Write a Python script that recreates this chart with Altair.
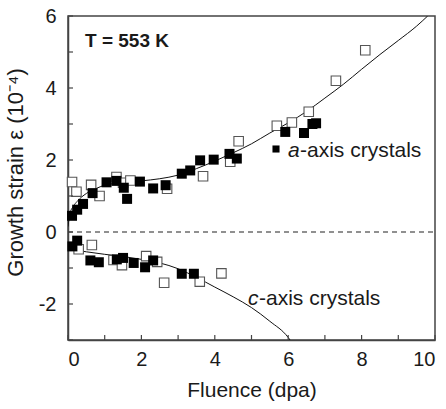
import altair as alt
import pandas as pd

# ---------------- data ----------------
a_filled_x = [0.11, 0.25, 0.41, 0.67, 1.05, 1.32, 1.52, 1.61, 1.96, 2.32, 2.66, 3.10, 3.33, 3.60, 3.97, 4.40, 4.60, 5.92, 6.43, 6.66, 6.76]
a_filled_y = [0.45, 0.62, 0.78, 1.08, 1.38, 1.42, 1.23, 0.92, 1.40, 1.21, 1.30, 1.62, 1.71, 1.99, 2.01, 2.17, 2.04, 2.78, 2.75, 3.00, 3.02]

a_open_x = [0.11, 0.23, 0.63, 0.86, 1.32, 1.50, 1.70, 2.70, 3.68, 4.42, 4.65, 5.69, 6.10, 6.56, 7.30, 8.10]
a_open_y = [1.39, 1.12, 1.31, 1.00, 1.53, 1.37, 1.43, 1.20, 1.55, 1.95, 2.52, 2.95, 3.04, 3.34, 4.20, 5.05]

c_filled_x = [0.12, 0.25, 0.61, 0.84, 1.33, 1.50, 1.79, 2.10, 2.32, 3.10, 3.43]
c_filled_y = [-0.40, -0.24, -0.79, -0.84, -0.76, -0.72, -0.86, -0.98, -0.79, -1.16, -1.16]

c_open_x = [0.29, 0.65, 1.24, 1.47, 2.13, 2.43, 2.62, 3.59, 4.18]
c_open_y = [-0.48, -0.36, -0.78, -0.92, -0.67, -0.83, -1.41, -1.38, -1.15]

a_fit_x = [0, 0.05, 0.15, 0.25, 0.5, 0.75, 1, 1.5, 2, 2.5, 3, 3.5, 4, 4.5, 5, 5.5, 6, 6.5, 7, 7.5, 8, 8.5, 9, 9.5, 9.8]
a_fit_y = [0.15, 0.5, 0.72, 0.85, 1.07, 1.2, 1.3, 1.37, 1.42, 1.48, 1.58, 1.76, 1.97, 2.2, 2.45, 2.75, 3.03, 3.35, 3.72, 4.1, 4.52, 4.93, 5.32, 5.72, 6.0]

c_fit_x = [0, 0.5, 1, 1.5, 2, 2.5, 3, 3.5, 4, 4.5, 5, 5.5, 6, 6.05]
c_fit_y = [-0.47, -0.55, -0.62, -0.68, -0.76, -0.86, -1.02, -1.26, -1.53, -1.8, -2.1, -2.48, -2.93, -3.0]

x_ticks = [0, 1, 2, 3, 4, 5, 6, 7, 8, 9, 10]
x_labels = [0, 2, 4, 6, 8, 10]
y_ticks = [-3, -2, -1, 0, 1, 2, 3, 4, 5, 6]
y_labels = [-2, 0, 2, 4, 6]
zero_line = [0, 10]

W, H = 367, 324
FONT = "Liberation Sans"
TXT = "#1a1a1a"
AX = "#444444"

xs = alt.Scale(domain=[0, 10], nice=False, zero=False)
ys = alt.Scale(domain=[-3, 6], nice=False, zero=False)

LBL = "datum.value < 0 ? '-' + abs(datum.value) : '' + datum.value"

xaxis = alt.Axis(values=x_labels, ticks=False, grid=False, labelFontSize=20, labelPadding=9, labelExpr=LBL,
                 title="Fluence (dpa)", titleFontSize=21, titlePadding=10, titleFontWeight="normal",
                 labelColor=TXT, titleColor=TXT, domainColor=AX, domainWidth=1.5, labelFont=FONT, titleFont=FONT)
yaxis = alt.Axis(values=y_labels, ticks=False, grid=False, labelFontSize=20, labelPadding=12, labelExpr=LBL,
                 title="Growth strain ε (10⁻⁴)", titleFontSize=22, titlePadding=11, titleFontWeight="normal",
                 titleY=156,
                 labelColor=TXT, titleColor=TXT, domainColor=AX, domainWidth=1.5, labelFont=FONT, titleFont=FONT)

def pts(x, y):
    return pd.DataFrame({"x": x, "y": y})

zero_df = pd.DataFrame({"x": zero_line, "y": [0, 0]})
zero = alt.Chart(zero_df).mark_line(color="#222", strokeWidth=1.1, strokeDash=[5, 4]).encode(
    x=alt.X("x:Q", scale=xs, axis=xaxis), y=alt.Y("y:Q", scale=ys, axis=yaxis))

fit_a = alt.Chart(pts(a_fit_x, a_fit_y)).mark_line(color="#111", strokeWidth=1, clip=True, interpolate="monotone").encode(
    x=alt.X("x:Q", scale=xs), y=alt.Y("y:Q", scale=ys))
fit_c = alt.Chart(pts(c_fit_x, c_fit_y)).mark_line(color="#111", strokeWidth=1, clip=True, interpolate="monotone").encode(
    x=alt.X("x:Q", scale=xs), y=alt.Y("y:Q", scale=ys))

def open_sq(x, y):
    return alt.Chart(pts(x, y)).mark_square(size=90, filled=True, fill="white", stroke="#555", strokeWidth=1.1, opacity=1).encode(
        x=alt.X("x:Q", scale=xs), y=alt.Y("y:Q", scale=ys))

def fill_sq(x, y):
    return alt.Chart(pts(x, y)).mark_square(size=100, filled=True, color="#000", opacity=1).encode(
        x=alt.X("x:Q", scale=xs), y=alt.Y("y:Q", scale=ys))

xt = alt.Chart(pd.DataFrame({"v": x_ticks})).mark_rule(color=AX, strokeWidth=1.2).encode(
    x=alt.X("v:Q", scale=xs), y=alt.value(H), y2=alt.value(H - 5))
yt = alt.Chart(pd.DataFrame({"v": y_ticks})).mark_rule(color=AX, strokeWidth=1.2).encode(
    y=alt.Y("v:Q", scale=ys), x=alt.value(0), x2=alt.value(5))

one = pd.DataFrame({"k": [0]})
t_label = alt.Chart(one).mark_text(text="T = 553 K", font=FONT, fontSize=19, fontWeight="bold", align="left",
                                   baseline="alphabetic", color=TXT).encode(x=alt.value(17), y=alt.value(31))
a_it = alt.Chart(one).mark_text(text="a", font=FONT, fontSize=21, fontStyle="italic", align="left",
                                baseline="alphabetic", color=TXT).encode(x=alt.value(220), y=alt.value(141))
a_rest = alt.Chart(one).mark_text(text="-axis crystals", font=FONT, fontSize=21, align="left",
                                  baseline="alphabetic", color=TXT).encode(x=alt.value(232), y=alt.value(141))
c_it = alt.Chart(one).mark_text(text="c", font=FONT, fontSize=21, fontStyle="italic", align="left",
                                baseline="alphabetic", color=TXT).encode(x=alt.value(180), y=alt.value(289))
c_rest = alt.Chart(one).mark_text(text="-axis crystals", font=FONT, fontSize=21, align="left",
                                  baseline="alphabetic", color=TXT).encode(x=alt.value(191), y=alt.value(289))
leg_sq = alt.Chart(one).mark_square(size=50, filled=True, color="#000", opacity=1).encode(
    x=alt.value(208), y=alt.value(133))

chart = alt.layer(
    zero, fit_a, fit_c,
    open_sq(a_open_x, a_open_y), open_sq(c_open_x, c_open_y),
    fill_sq(a_filled_x, a_filled_y), fill_sq(c_filled_x, c_filled_y),
    xt, yt, t_label, a_it, a_rest, c_it, c_rest, leg_sq,
).properties(
    width=W, height=H,
    autosize=alt.AutoSizeParams(type="none"),
    padding={"left": 68, "top": 16, "right": 11, "bottom": 69},
    background="white",
).configure_view(stroke=AX, strokeWidth=1.5)

chart.save("out.html", embed_options={"renderer": "svg", "actions": False})
